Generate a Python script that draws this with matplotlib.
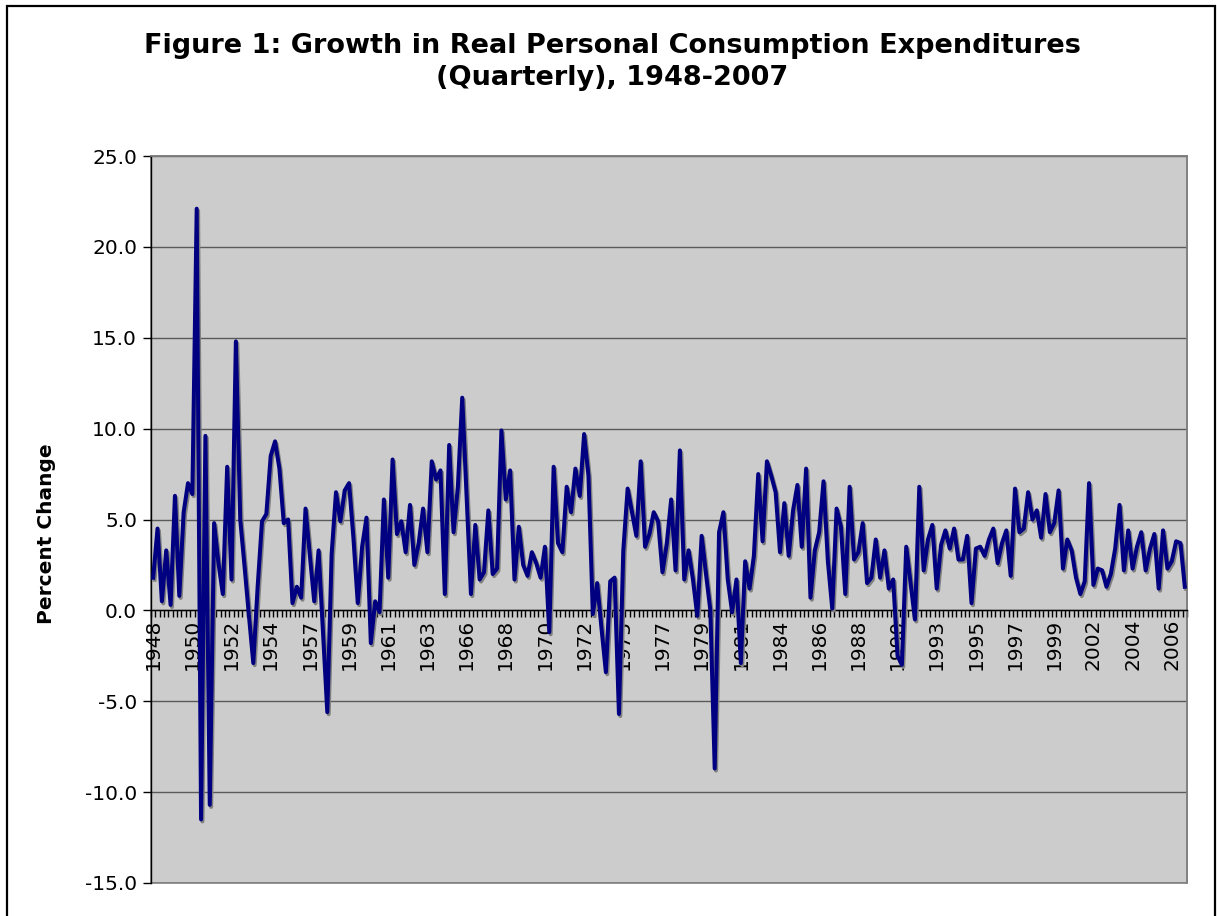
import numpy as np
import matplotlib
matplotlib.use("Agg")
import matplotlib.pyplot as plt
import matplotlib.patheffects as pe
from matplotlib.patches import Rectangle

plt.rcParams["axes.unicode_minus"] = False
plt.rcParams["font.family"] = ["DejaVu Sans"]

# quarterly growth, annualized percent, 1948Q1 onward
pce_growth = [
    1.8, 4.5, 0.5, 3.3, 0.3, 6.3, 0.8, 5.4, 7.0, 6.4,
    22.1, -11.5, 9.6, -10.7, 4.8, 2.6, 0.9, 7.9, 1.7, 14.8,
    5.0, 2.4, -0.3, -2.9, 1.3, 4.9, 5.3, 8.5, 9.3, 7.8,
    4.8, 5.0, 0.4, 1.3, 0.7, 5.6, 3.0, 0.5, 3.3, -1.2,
    -5.6, 3.1, 6.5, 4.9, 6.6, 7.0, 4.0, 0.4, 3.5, 5.1,
    -1.8, 0.5, -0.1, 6.1, 1.8, 8.3, 4.2, 4.9, 3.2, 5.8,
    2.5, 3.7, 5.6, 3.2, 8.2, 7.2, 7.7, 0.9, 9.1, 4.3,
    6.8, 11.7, 6.3, 0.9, 4.7, 1.7, 2.1, 5.5, 2.0, 2.3,
    9.9, 6.1, 7.7, 1.7, 4.6, 2.5, 1.9, 3.2, 2.6, 1.8,
    3.5, -1.2, 7.9, 3.7, 3.2, 6.8, 5.4, 7.8, 6.3, 9.7,
    7.4, -0.2, 1.5, -1.0, -3.4, 1.6, 1.8, -5.7, 3.3, 6.7,
    5.4, 4.1, 8.2, 3.5, 4.2, 5.4, 4.9, 2.1, 3.7, 6.1,
    2.2, 8.8, 1.7, 3.3, 1.7, -0.3, 4.1, 2.0, 0.0, -8.7,
    4.3, 5.4, 1.7, -0.1, 1.7, -2.9, 2.7, 1.2, 3.0, 7.5,
    3.8, 8.2, 7.4, 6.5, 3.2, 5.9, 3.0, 5.5, 6.9, 3.5,
    7.8, 0.7, 3.3, 4.3, 7.1, 2.7, 0.1, 5.6, 4.6, 0.9,
    6.8, 2.8, 3.2, 4.8, 1.5, 1.8, 3.9, 1.8, 3.3, 1.2,
    1.7, -2.5, -3.0, 3.5, 1.5, -0.5, 6.8, 2.2, 3.9, 4.7,
    1.2, 3.6, 4.4, 3.4, 4.5, 2.8, 2.8, 4.1, 0.4, 3.4,
    3.5, 3.0, 3.9, 4.5, 2.6, 3.7, 4.4, 1.9, 6.7, 4.3,
    4.5, 6.5, 5.0, 5.5, 4.0, 6.4, 4.3, 4.8, 6.6, 2.3,
    3.9, 3.3, 1.8, 0.9, 1.6, 7.0, 1.4, 2.3, 2.2, 1.3,
    2.0, 3.4, 5.8, 2.2, 4.4, 2.3, 3.5, 4.3, 2.2, 3.4,
    4.2, 1.2, 4.4, 2.3, 2.7, 3.8, 3.7, 1.3,
]
start_year = 1948
quarter_years = [str(start_year + q // 4) for q in range(len(pce_growth))]
label_step = 9
y_ticks = [-15, -10, -5, 0, 5, 10, 15, 20, 25]

title = ("Figure 1: Growth in Real Personal Consumption Expenditures\n"
         "(Quarterly), 1948-2007")

# ---------------------------------
# figure + frame
# ---------------------------------
W, H = 1217, 916
fig = plt.figure(figsize=(W / 100, H / 100), dpi=100)
fig.patch.set_facecolor("white")
fig.patches.append(Rectangle((7 / W, -0.02), 1208 / W, 1 - 6 / H + 0.02,
                             transform=fig.transFigure, fill=False,
                             edgecolor="black", linewidth=1.6))

ax = fig.add_axes([151 / W, 1 - 883 / H, 1036 / W, 727 / H])
ax.set_facecolor("#cccccc")
ax.patch.set_edgecolor("#808080")
ax.patch.set_linewidth(1.2)

x = np.arange(len(pce_growth))
ax.plot(x, pce_growth, color="#000080", linewidth=2.9,
        solid_joinstyle="round", zorder=3,
        path_effects=[pe.SimpleLineShadow(offset=(1, -1.5),
                                          shadow_color="#808080", alpha=1.0),
                      pe.Normal()])

ax.set_xlim(-0.5, len(pce_growth) - 0.5)
ax.set_ylim(-15, 25)

# ---------------------------------
# grid / spines
# ---------------------------------
ax.set_yticks(y_ticks)
ax.set_yticklabels([f"{v:.1f}" for v in y_ticks])
ax.yaxis.grid(True, color="#5a5a5a", linewidth=1.0)
ax.set_axisbelow(True)

for s in ["top", "right"]:
    ax.spines[s].set_color("#808080")
    ax.spines[s].set_linewidth(1.2)
ax.spines["left"].set_color("black")
ax.spines["left"].set_linewidth(1.0)
ax.spines["bottom"].set_position(("data", 0))
ax.spines["bottom"].set_color("black")
ax.spines["bottom"].set_linewidth(1.0)

# category labels every 9 quarters, tick marks at every quarter
pos = list(range(0, len(pce_growth), label_step))
ax.set_xticks(pos)
ax.set_xticklabels([quarter_years[p] for p in pos], rotation=90)
ax.set_xticks(np.arange(-0.5, len(pce_growth), 1), minor=True)
ax.tick_params(axis="x", which="major", length=0, pad=6, labelsize=14.5)
ax.tick_params(axis="x", which="minor", length=5, width=1,
               direction="out", color="black")
ax.tick_params(axis="y", length=6, width=1, direction="out",
               labelsize=14.5, pad=4)

ax.set_ylabel("Percent Change", fontsize=14.5, fontweight="bold")
ax.yaxis.set_label_coords(-0.092, 0.48)

fig.text(0.503, 1 - 62 / H, title, ha="center", va="center",
         fontsize=19.5, fontweight="bold", linespacing=1.3)

plt.savefig("out.png", dpi=100)
